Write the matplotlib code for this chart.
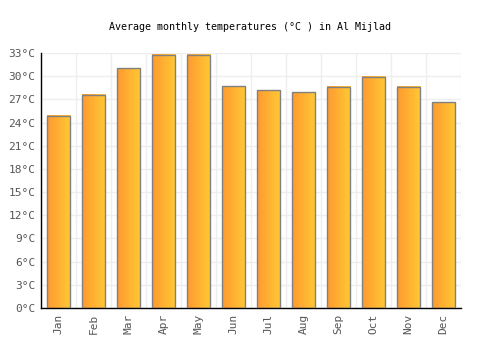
import numpy as np
import matplotlib.pyplot as plt
from matplotlib.colors import LinearSegmentedColormap

months = ['Jan', 'Feb', 'Mar', 'Apr', 'May', 'Jun',
          'Jul', 'Aug', 'Sep', 'Oct', 'Nov', 'Dec']
temps = [24.9, 27.6, 31.0, 32.8, 32.8, 28.7,
         28.2, 27.9, 28.6, 29.9, 28.6, 26.6]
yticks = list(range(0, 34, 3))

plt.rcParams['font.family'] = 'DejaVu Sans Mono'

fig = plt.figure(figsize=(5, 3.5), dpi=100)
ax = fig.add_axes([0.082, 0.12, 0.84, 0.7286])

x = np.arange(len(months))
width = 0.66

# horizontal gradient orange -> yellow
grad = np.linspace(0, 1, 64).reshape(1, -1)
cmap = LinearSegmentedColormap.from_list('oy', ['#ff9a30', '#ffc935'])

for xi, t in zip(x, temps):
    left = xi - width / 2
    ax.imshow(grad, cmap=cmap, aspect='auto', interpolation='bilinear',
              extent=[left, left + width, 0, t], zorder=2)
    ax.bar(xi, t, width=width, facecolor='none', edgecolor='#808080',
           linewidth=1, zorder=3)

ax.set_xlim(-0.5, len(months) - 0.5)
ax.set_ylim(0, 33)
ax.set_xticks(x)
ax.set_xticklabels(months, rotation=90, color='#555555', fontsize=8)
ax.set_yticks(yticks)
ax.set_yticklabels([f'{v}°C' for v in yticks], color='#555555', fontsize=8)
ax.set_xticks(np.arange(-0.5, len(months), 1), minor=True)
ax.grid(True, which='minor', axis='x', color='#eeeeee', linewidth=1, zorder=0)
ax.grid(True, which='major', axis='y', color='#eeeeee', linewidth=1, zorder=0)
ax.tick_params(axis='both', which='both', length=0, pad=4)

for side in ['top', 'right']:
    ax.spines[side].set_visible(False)
for side in ['left', 'bottom']:
    ax.spines[side].set_color('black')
    ax.spines[side].set_linewidth(1)

fig.text(0.5, 0.922, 'Average monthly temperatures (°C ) in Al Mijlad',
         ha='center', va='center', fontsize=7.2, color='black')

fig.savefig('out.png', dpi=100)
